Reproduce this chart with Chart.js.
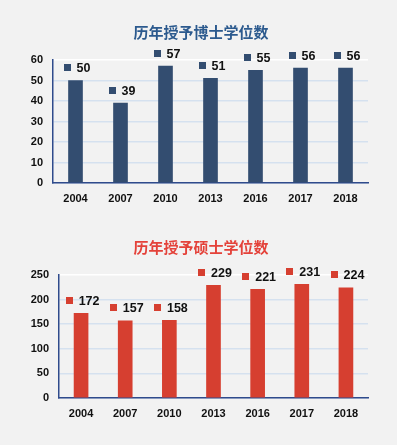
<!DOCTYPE html>
<html><head><meta charset="utf-8">
<script src="https://cdn.jsdelivr.net/npm/chart.js@4.4.0/dist/chart.umd.min.js"></script>
<style>
html,body{margin:0;padding:0;background:#f2f2f2;}
#wrap{position:relative;width:397px;height:445px;background:#f2f2f2;overflow:hidden;}
#c1{position:absolute;left:0;top:0;}
#c2{position:absolute;left:0;top:215px;}
</style></head><body>
<div id="wrap">
<canvas id="c1" width="397" height="215"></canvas>
<canvas id="c2" width="397" height="215"></canvas>
</div>
<script>
const categories = ['2004','2007','2010','2013','2016','2017','2018'];
const doctorValues = [50, 39, 57, 51, 55, 56, 56];
const masterValues = [172, 157, 158, 229, 221, 231, 224];
const doctorTitle = '历年授予博士学位数';
const masterTitle = '历年授予硕士学位数';
const doctorTicks = [0,10,20,30,40,50,60];
const masterTicks = [0,50,100,150,200,250];

const labelPlugin = {
  id: 'sqLabels',
  afterDatasetsDraw(chart) {
    const ctx = chart.ctx;
    const meta = chart.getDatasetMeta(0);
    const color = chart.data.datasets[0].backgroundColor;
    ctx.save();
    ctx.font = 'bold 12.5px "Liberation Sans", Arial, sans-serif';
    ctx.textBaseline = 'middle';
    ctx.textAlign = 'left';
    meta.data.forEach((bar, i) => {
      const txt = String(chart.data.datasets[0].data[i]);
      const tw = ctx.measureText(txt).width;
      const sq = 7, gap = 6;
      const total = sq + gap + tw;
      const cx = bar.x + 1.5;
      const y = bar.y - 13;
      const x0 = cx - total / 2;
      ctx.fillStyle = color;
      ctx.fillRect(Math.round(x0), Math.round(y - 3.5), sq, sq);
      ctx.fillStyle = '#111';
      ctx.fillText(txt, x0 + sq + gap, y + 1);
    });
    ctx.restore();
  }
};

const titlePlugin = {
  id: 'myTitle',
  afterDraw(chart, args, opts) {
    const ctx = chart.ctx;
    ctx.save();
    ctx.font = 'bold 15px "Noto Sans CJK SC", sans-serif';
    ctx.fillStyle = opts.color;
    ctx.textAlign = 'center';
    ctx.textBaseline = 'middle';
    ctx.fillText(opts.text, 201, 32.5);
    ctx.restore();
  }
};

function makeChart(id, values, color, title, titleColor, ticks, yWidth) {
  const max = ticks[ticks.length - 1];
  const step = ticks[1] - ticks[0];
  return new Chart(document.getElementById(id), {
    type: 'bar',
    data: { labels: categories, datasets: [{ data: values, backgroundColor: color, barThickness: 14 }] },
    plugins: [labelPlugin, titlePlugin],
    options: {
      responsive: false,
      animation: false,
      layout: { padding: { top: 60, right: 29, bottom: 0, left: 0 } },
      plugins: {
        legend: { display: false },
        tooltip: { enabled: false },
        title: { display: false },
        myTitle: { text: title, color: titleColor }
      },
      scales: {
        x: {
          grid: { display: false, drawTicks: false },
          border: { display: true, color: '#2f4b8c', width: 1.5 },
          ticks: { color: '#111', padding: 9, font: { family: '"Liberation Sans", Arial, sans-serif', weight: 'bold', size: 11 } },
          afterFit(s) { s.height = 32; }
        },
        y: {
          min: 0, max: max,
          grid: {
            drawTicks: false,
            lineWidth: 1.5,
            color: (c) => (c.tick && c.tick.value === max) ? '#ffffff' : '#d5e1ef'
          },
          border: { display: true, color: '#2f4b8c', width: 1.5 },
          ticks: { stepSize: step, color: '#111', padding: 10, font: { family: '"Liberation Sans", Arial, sans-serif', weight: 'bold', size: 11 } },
          afterFit(s) { s.width = yWidth; }
        }
      }
    }
  });
}

makeChart('c1', doctorValues, '#334d70', doctorTitle, '#2c5a8e', doctorTicks, 53);
makeChart('c2', masterValues, '#d63f30', masterTitle, '#e4423a', masterTicks, 59);
</script>
</body></html>
